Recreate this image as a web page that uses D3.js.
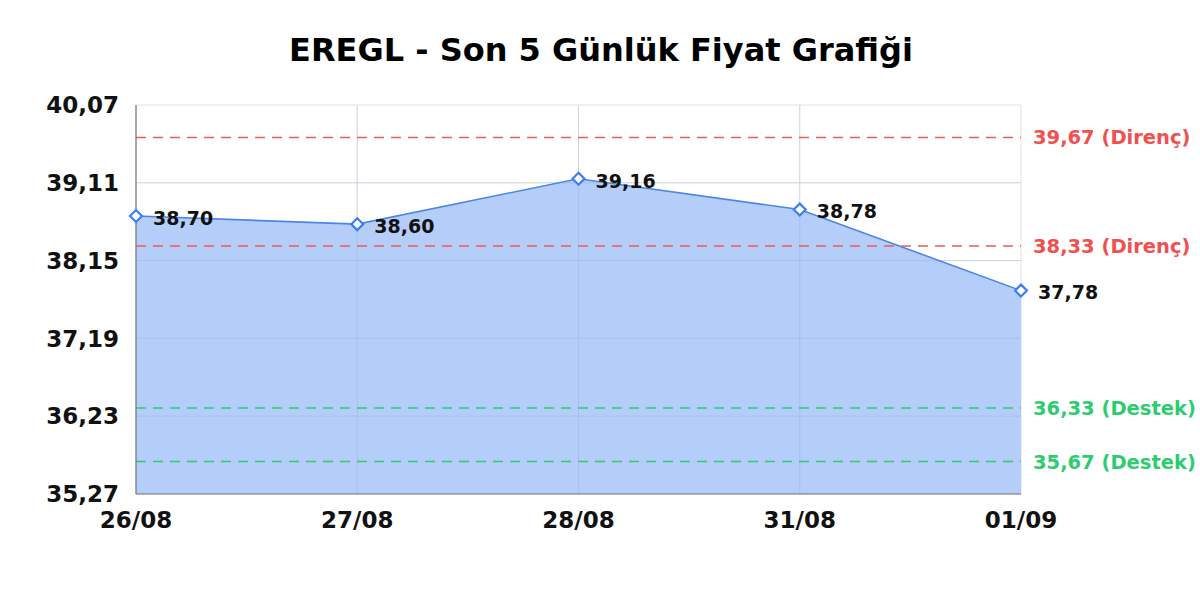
<!DOCTYPE html>
<html><head><meta charset="utf-8">
<script src="https://cdn.jsdelivr.net/npm/d3@7"></script>
<style>body{margin:0;background:#fff}svg{display:block}</style>
</head><body>
<svg id="c" width="1200" height="600"></svg>
<script>
const title = "EREGL - Son 5 Günlük Fiyat Grafiği";
const dates = ["26/08","27/08","28/08","31/08","01/09"];
const prices = [38.70, 38.60, 39.16, 38.78, 37.78];
const yTicks = [35.27, 36.23, 37.19, 38.15, 39.11, 40.07];
const resistance = [39.67, 38.33];
const support = [36.33, 35.67];

const fmt = v => v.toFixed(2).replace(".", ",");
const svg = d3.select("#c");
const L = 136, R = 1021, T = 105, B = 494;
const x = d3.scalePoint().domain(dates).range([L, R]).padding(0);
const y = d3.scaleLinear().domain([yTicks[0], yTicks[yTicks.length-1]]).range([B, T]);
const font = "DejaVu Sans, sans-serif";

svg.append("text").attr("x", 601).attr("y", 61).attr("text-anchor","middle")
  .attr("font-family", font).attr("font-weight","bold").attr("font-size", 32).attr("fill","#000").text(title);

// grid
svg.append("g").selectAll("line").data(yTicks).join("line")
  .attr("x1", L).attr("x2", R).attr("y1", d=>y(d)).attr("y2", d=>y(d))
  .attr("stroke","#e3e3e3").attr("stroke-width",1);
svg.append("g").selectAll("line").data(dates).join("line")
  .attr("x1", d=>x(d)).attr("x2", d=>x(d)).attr("y1", T).attr("y2", B)
  .attr("stroke","#e3e3e3").attr("stroke-width",1);

// area
const area = d3.area().x((d,i)=>x(dates[i])).y0(B).y1(d=>y(d));
svg.append("path").datum(prices).attr("d", area).attr("fill","#a8c6f8").attr("fill-opacity",0.85);
svg.append("g").selectAll("line").data(yTicks.slice(1,-1)).join("line")
  .attr("x1", L).attr("x2", R).attr("y1", d=>y(d)).attr("y2", d=>y(d))
  .attr("stroke","#8aa6d8").attr("stroke-opacity",0.25).attr("stroke-width",1);
svg.append("g").selectAll("line").data(dates.slice(1,-1)).join("line")
  .attr("x1", d=>x(d)).attr("x2", d=>x(d)).attr("y1", T).attr("y2", B)
  .attr("stroke","#8aa6d8").attr("stroke-opacity",0.25).attr("stroke-width",1);

const line = d3.line().x((d,i)=>x(dates[i])).y(d=>y(d));
svg.append("path").datum(prices).attr("d", line).attr("fill","none").attr("stroke","#4a86e8").attr("stroke-width",1.6);

// levels
const lvl = svg.append("g");
resistance.forEach(v => {
  lvl.append("line").attr("x1", L).attr("x2", R).attr("y1", y(v)).attr("y2", y(v))
    .attr("stroke","#f05a5a").attr("stroke-width",1.5).attr("stroke-dasharray","10,7");
  lvl.append("text").attr("x", 1033).attr("y", y(v)).attr("dy","0.36em")
    .attr("font-family", font).attr("font-weight","bold").attr("font-size",19.5).attr("fill","#f05050")
    .text(fmt(v) + " (Direnç)");
});
support.forEach(v => {
  lvl.append("line").attr("x1", L).attr("x2", R).attr("y1", y(v)).attr("y2", y(v))
    .attr("stroke","#2ecc71").attr("stroke-width",1.5).attr("stroke-dasharray","10,7");
  lvl.append("text").attr("x", 1033).attr("y", y(v)).attr("dy","0.36em")
    .attr("font-family", font).attr("font-weight","bold").attr("font-size",19.5).attr("fill","#2ecc71")
    .text(fmt(v) + " (Destek)");
});

// axes lines
svg.append("line").attr("x1", L).attr("x2", L).attr("y1", T).attr("y2", B).attr("stroke","#777").attr("stroke-width",1.2);
svg.append("line").attr("x1", L).attr("x2", R).attr("y1", B).attr("y2", B).attr("stroke","#777").attr("stroke-width",1.2);

// y tick labels
svg.append("g").selectAll("text").data(yTicks).join("text")
  .attr("x", 119).attr("y", d=>y(d)).attr("dy","0.36em").attr("text-anchor","end")
  .attr("font-family", font).attr("font-weight","bold").attr("font-size",23).attr("fill","#111")
  .text(fmt);
// x tick labels
svg.append("g").selectAll("text").data(dates).join("text")
  .attr("x", d=>x(d)).attr("y", 520).attr("dy","0.36em").attr("text-anchor","middle")
  .attr("font-family", font).attr("font-weight","bold").attr("font-size",23).attr("fill","#111")
  .text(d=>d);

// markers
const sym = d3.symbol().type(d3.symbolDiamond2).size(90);
svg.append("g").selectAll("path").data(prices).join("path")
  .attr("transform",(d,i)=>`translate(${x(dates[i])},${y(d)})`)
  .attr("d", sym).attr("fill","#fff").attr("stroke","#3b7fea").attr("stroke-width",2.2);
// data labels
svg.append("g").selectAll("text").data(prices).join("text")
  .attr("x",(d,i)=>x(dates[i]) + 17).attr("y",(d,i)=>y(d) + 2).attr("dy","0.36em")
  .attr("font-family", font).attr("font-weight","bold").attr("font-size",19).attr("fill","#111")
  .text(fmt);
</script>
</body></html>
